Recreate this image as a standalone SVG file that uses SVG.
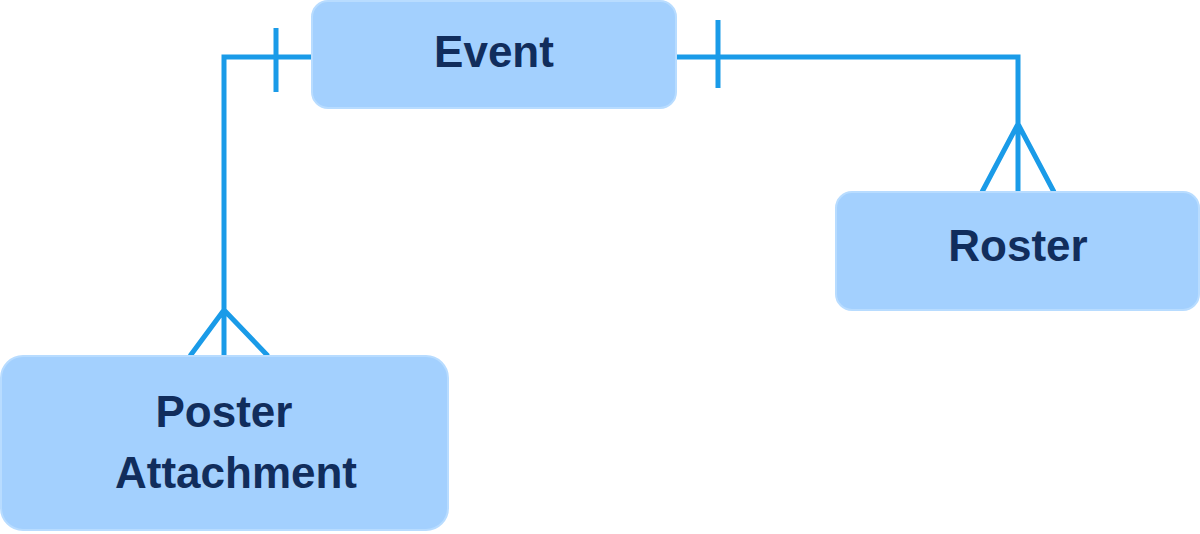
<svg xmlns="http://www.w3.org/2000/svg" width="1200" height="534" viewBox="0 0 1200 534">
<style>
.n{fill:#a3d0fe;stroke:#b8dcff;stroke-width:2}
.t{font-family:"Liberation Sans",Arial,sans-serif;font-weight:bold;font-size:44px;fill:#112d5c;text-anchor:middle}
.c{fill:none;stroke:#1a9be8;stroke-width:5}
</style>
<g id="connectors">
<path class="c" d="M312 57H224V356M276 28V92M224 310L190 356M224 310L268 356"/>
<path class="c" d="M676 57H1018V192M718 20V88M1018 124L982 192M1018 124L1054 192"/>
</g>
<g id="event"><rect class="n" x="312" y="1" width="364" height="107" rx="16"/><text class="t" x="494" y="67">Event</text></g>
<g id="roster"><rect class="n" x="836" y="192" width="363" height="118" rx="16"/><text class="t" x="1018" y="261">Roster</text></g>
<g id="poster"><rect class="n" x="1" y="356" width="447" height="174" rx="22"/><text class="t" x="224" y="427">Poster</text><text class="t" x="236" y="488">Attachment</text></g>
</svg>
